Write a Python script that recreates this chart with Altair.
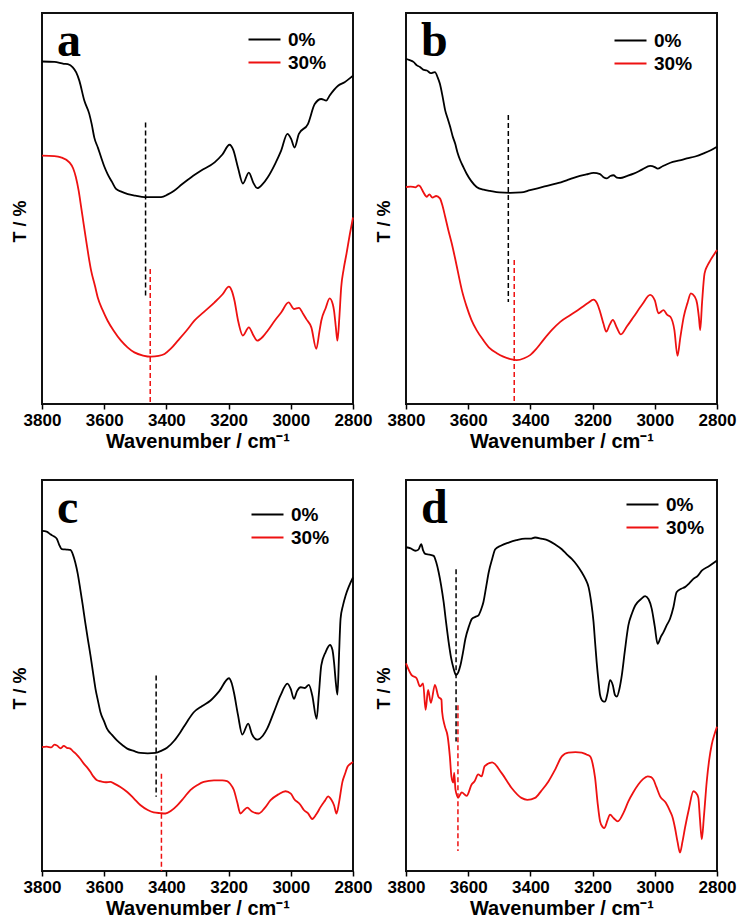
import altair as alt
import pandas as pd

panel_labels = ["a", "b", "c", "d"]
series_names = ["0%", "30%"]
series_colors = ["#000000", "#ee1111"]
x_tick_values = [3800, 3700, 3600, 3500, 3400, 3300, 3200, 3100, 3000, 2900, 2800]

# ---------- panel a ----------
a0_wn = [3800, 3760, 3730, 3717, 3701, 3690, 3680, 3664, 3648, 3640, 3632, 3620, 3610, 3600, 3589, 3575,
         3562, 3545, 3524, 3500, 3470, 3440, 3417, 3395, 3374, 3350, 3320, 3288, 3245, 3220, 3197, 3185,
         3170, 3154, 3135, 3120, 3108, 3090, 3074, 3050, 3031, 3011, 2999, 2988, 2974, 2945, 2923, 2902,
         2886, 2875, 2848, 2827, 2800]
a0_t = [87.6, 87.5, 87.0, 86.9, 86.1, 84.8, 82.7, 77.6, 74.2, 71.5, 68.2, 65.5, 63.1, 60.8, 58.8, 56.8,
        55.0, 54.3, 53.7, 53.3, 52.9, 52.9, 52.9, 53.6, 54.6, 56.2, 58.0, 59.7, 61.8, 63.8, 66.3, 65.0,
        60.5, 56.4, 59.2, 56.5, 55.2, 56.3, 58.0, 61.5, 64.8, 69.1, 67.8, 65.6, 69.1, 71.6, 76.7, 78.0,
        77.6, 78.9, 81.4, 82.3, 84.0]
a30_wn = [3800, 3760, 3739, 3712, 3700, 3691, 3682, 3674, 3666, 3658, 3650, 3642, 3630, 3621, 3605, 3589,
          3570, 3546, 3525, 3503, 3475, 3449, 3425, 3406, 3385, 3363, 3335, 3310, 3280, 3245, 3220, 3199,
          3190, 3181, 3170, 3154, 3135, 3120, 3108, 3090, 3074, 3050, 3031, 3007, 2990, 2974, 2960, 2950,
          2934, 2918, 2908, 2902, 2888, 2875, 2865, 2861, 2855, 2850, 2844, 2838, 2830, 2821, 2810, 2800]
a30_t = [63.5, 63.4, 63.1, 61.8, 60.3, 58.0, 54.5, 50.3, 46.0, 41.8, 37.7, 34.1, 30.3, 27.3, 24.0, 21.3,
         18.8, 16.2, 14.5, 13.2, 12.4, 12.1, 12.3, 12.8, 14.2, 16.2, 18.8, 21.3, 23.5, 26.0, 28.0, 30.0,
         29.0, 26.4, 21.5, 17.5, 19.6, 17.5, 16.2, 17.2, 18.8, 21.5, 23.4, 26.0, 24.3, 24.6, 23.0, 21.7,
         19.6, 14.1, 18.5, 21.3, 24.5, 27.0, 25.5, 23.9, 19.5, 16.2, 22.0, 29.8, 34.5, 38.4, 43.5, 47.7]

# ---------- panel b ----------
b0_wn = [3800, 3790, 3776, 3765, 3755, 3745, 3733, 3720, 3707, 3698, 3691, 3682, 3674, 3666, 3658, 3650,
         3642, 3634, 3626, 3615, 3605, 3590, 3573, 3550, 3530, 3500, 3465, 3430, 3401, 3360, 3315, 3280,
         3251, 3220, 3197, 3176, 3165, 3154, 3143, 3133, 3122, 3111, 3090, 3068, 3040, 3015, 3000, 2991,
         2975, 2950, 2920, 2897, 2870, 2843, 2820, 2800]
b0_t = [88.3, 88.0, 87.5, 86.6, 86.2, 85.5, 85.3, 84.6, 84.9, 83.5, 81.9, 78.5, 75.1, 73.0, 70.9, 68.5,
        66.6, 64.2, 62.4, 60.5, 58.9, 57.0, 55.5, 54.8, 54.5, 54.1, 54.0, 54.1, 54.7, 55.5, 56.4, 57.3,
        58.1, 58.7, 59.1, 58.8, 58.0, 57.7, 58.3, 58.5, 57.9, 57.8, 58.3, 58.9, 60.0, 60.9, 60.6, 60.2,
        60.8, 61.7, 62.3, 62.8, 63.3, 64.1, 64.9, 65.8]
b30_wn = [3800, 3785, 3770, 3760, 3755, 3745, 3733, 3725, 3715, 3703, 3691, 3682, 3674, 3664, 3653, 3642,
          3632, 3620, 3605, 3590, 3573, 3552, 3530, 3508, 3487, 3465, 3444, 3420, 3401, 3380, 3358, 3330,
          3304, 3270, 3240, 3215, 3197, 3186, 3176, 3165, 3156, 3145, 3135, 3122, 3109, 3090, 3068, 3040,
          3015, 3000, 2988, 2972, 2960, 2950, 2937, 2927, 2918, 2907, 2895, 2884, 2872, 2864, 2858, 2854,
          2848, 2840, 2830, 2821, 2810, 2800]
b30_t = [55.5, 55.6, 55.4, 55.9, 55.7, 54.3, 53.0, 53.6, 52.8, 53.2, 52.6, 50.5, 47.9, 44.5, 41.1, 37.2,
         33.4, 29.0, 24.9, 21.6, 18.9, 16.4, 14.2, 13.0, 12.1, 11.5, 11.2, 11.7, 12.5, 14.2, 16.4, 19.0,
         21.0, 22.8, 24.4, 25.8, 26.7, 25.8, 23.6, 20.5, 18.5, 20.3, 21.5, 19.5, 17.8, 19.8, 22.3, 25.5,
         27.9, 26.5, 23.2, 24.0, 22.8, 22.3, 18.9, 12.3, 17.0, 22.3, 25.8, 28.3, 27.5, 25.7, 22.0, 18.9,
         26.0, 33.4, 35.5, 36.8, 38.2, 39.4]

# ---------- panel c ----------
c0_wn = [3800, 3785, 3773, 3762, 3752, 3745, 3736, 3720, 3709, 3700, 3693, 3685, 3677, 3669, 3661, 3652,
         3644, 3636, 3628, 3620, 3612, 3600, 3591, 3575, 3559, 3540, 3526, 3505, 3483, 3460, 3435, 3415,
         3398, 3375, 3355, 3335, 3312, 3285, 3258, 3230, 3199, 3190, 3183, 3170, 3156, 3137, 3125, 3108,
         3090, 3076, 3055, 3033, 3011, 3000, 2990, 2980, 2968, 2955, 2942, 2931, 2917, 2910, 2902, 2888,
         2874, 2866, 2861, 2855, 2850, 2845, 2840, 2832, 2824, 2812, 2800]
c0_t = [87.0, 86.8, 86.1, 85.6, 84.9, 83.5, 82.3, 82.2, 82.1, 80.8, 78.9, 76.0, 72.1, 68.0, 63.6, 59.0,
        55.1, 50.8, 46.6, 43.5, 40.6, 38.2, 36.4, 34.8, 33.4, 32.1, 31.3, 30.7, 30.2, 30.1, 30.2, 30.8,
        31.5, 33.3, 35.5, 38.0, 40.6, 42.2, 43.6, 46.0, 49.3, 48.0, 45.7, 40.0, 34.9, 37.7, 35.0, 33.6,
        34.6, 36.4, 40.5, 44.9, 47.9, 46.5, 44.0, 46.0, 47.0, 46.8, 47.6, 44.9, 38.9, 45.0, 52.6, 56.0,
        57.8, 56.5, 53.4, 48.0, 45.1, 55.0, 64.5, 68.0, 70.4, 73.0, 75.1]
c30_wn = [3800, 3785, 3770, 3760, 3752, 3740, 3730, 3720, 3709, 3700, 3690, 3677, 3665, 3655, 3644, 3635,
          3623, 3610, 3595, 3580, 3569, 3548, 3526, 3505, 3483, 3460, 3441, 3420, 3403, 3385, 3365, 3345,
          3323, 3300, 3280, 3247, 3220, 3205, 3195, 3183, 3172, 3162, 3150, 3140, 3125, 3103, 3085, 3065,
          3040, 3017, 3000, 2990, 2970, 2958, 2945, 2931, 2918, 2904, 2890, 2880, 2870, 2861, 2853, 2845,
          2834, 2825, 2818, 2810, 2800]
c30_t = [31.7, 31.8, 31.6, 32.3, 32.1, 31.4, 32.0, 31.5, 31.3, 30.6, 29.9, 28.7, 27.4, 26.5, 25.3, 24.2,
         23.2, 22.9, 22.7, 22.8, 22.4, 21.5, 20.2, 18.6, 16.8, 15.6, 15.0, 14.8, 14.7, 15.4, 16.8, 18.6,
         20.7, 22.0, 22.8, 23.2, 23.2, 23.0, 22.3, 20.7, 17.5, 14.7, 15.6, 16.2, 15.2, 14.7, 16.0, 18.1,
         19.6, 20.4, 19.8, 18.5, 17.0, 15.6, 14.8, 13.3, 14.5, 16.4, 18.0, 19.1, 18.3, 16.8, 14.7, 17.5,
         22.8, 25.0, 26.6, 27.3, 27.9]

# ---------- panel d ----------
d0_wn = [3800, 3785, 3770, 3760, 3751, 3745, 3738, 3725, 3711, 3703, 3695, 3687, 3679, 3671, 3663, 3655,
         3647, 3639, 3632, 3625, 3617, 3609, 3598, 3588, 3577, 3567, 3558, 3551, 3542, 3534, 3523, 3513,
         3495, 3470, 3445, 3417, 3400, 3385, 3365, 3342, 3320, 3299, 3283, 3267, 3250, 3235, 3222, 3213,
         3205, 3197, 3192, 3187, 3181, 3176, 3168, 3160, 3152, 3144, 3135, 3128, 3122, 3114, 3106, 3096,
         3085, 3073, 3063, 3045, 3031, 3020, 3010, 3000, 2991, 2980, 2972, 2962, 2951, 2940, 2930, 2915,
         2903, 2890, 2876, 2862, 2849, 2825, 2800]
d0_t = [82.8, 82.5, 81.9, 82.2, 83.6, 82.0, 81.1, 80.9, 80.6, 79.0, 76.4, 73.0, 68.8, 63.5, 58.6, 54.5,
        51.8, 50.1, 50.8, 52.6, 55.8, 59.4, 62.5, 64.5, 65.0, 65.4, 67.0, 68.8, 72.8, 76.4, 79.8, 82.3,
        83.2, 84.0, 84.6, 85.0, 85.0, 85.3, 85.0, 84.5, 83.5, 82.3, 81.0, 79.8, 78.2, 76.4, 74.5, 72.6,
        69.0, 63.7, 58.5, 53.5, 48.5, 45.0, 43.5, 43.3, 45.5, 48.8, 47.5, 45.0, 44.6, 46.5, 50.1, 56.5,
        62.8, 66.0, 67.9, 69.5, 70.3, 69.5, 67.1, 62.5, 58.1, 60.0, 61.1, 62.8, 64.5, 67.5, 71.3, 72.2,
        72.6, 73.5, 74.7, 75.5, 76.8, 78.0, 79.4]
d30_wn = [3800, 3782, 3766, 3755, 3745, 3737, 3729, 3720, 3707, 3696, 3686, 3684, 3675, 3666, 3659, 3654,
          3648, 3645, 3641, 3632, 3621, 3605, 3589, 3579, 3568, 3557, 3547, 3523, 3493, 3461, 3429, 3410,
          3385, 3365, 3342, 3320, 3299, 3278, 3255, 3235, 3220, 3208, 3200, 3192, 3184, 3176, 3168, 3162,
          3152, 3144, 3132, 3119, 3100, 3085, 3070, 3053, 3038, 3023, 3012, 3004, 2995, 2983, 2965, 2951,
          2942, 2935, 2927, 2919, 2911, 2903, 2890, 2876, 2868, 2860, 2855, 2849, 2842, 2833, 2825, 2817,
          2808, 2800]
d30_t = [53.1, 50.1, 49.3, 47.2, 48.0, 41.2, 46.3, 43.0, 47.6, 44.6, 43.8, 40.8, 37.0, 34.4, 29.3, 24.2,
         22.6, 25.1, 20.9, 18.8, 20.1, 19.2, 22.1, 23.0, 24.7, 24.2, 26.8, 27.8, 25.1, 21.3, 18.7, 18.2,
         18.7, 20.5, 22.9, 26.0, 29.3, 30.3, 30.4, 30.3, 29.8, 29.3, 27.5, 23.8, 17.5, 12.7, 11.3, 11.0,
         13.0, 14.4, 13.5, 12.7, 15.0, 17.8, 20.0, 22.1, 23.5, 24.2, 24.0, 23.3, 21.5, 19.1, 17.5, 15.3,
         13.5, 11.0, 7.5, 4.7, 7.5, 11.0, 16.0, 20.4, 20.0, 18.7, 13.5, 8.1, 14.0, 22.9, 28.5, 32.3,
         35.0, 36.9]

# dashed marker lines: position (cm-1), top, bottom  for 0% and 30%
dash_a = [(3467, 72.0, 27.7), (3452, 34.5, 0.0)]
dash_b = [(3471, 73.9, 26.1), (3452, 36.8, 0.0)]
dash_c = [(3433, 50.0, 19.0), (3416, 24.9, 0.0)]
dash_d = [(3639, 77.2, 33.1), (3633, 42.4, 5.1)]

legend_pos = [(213, 17), (215, 18), (216, 25), (227, 15)]

FONT = "Liberation Sans"


def panel(idx, curves, dashes):
    rows = []
    for name, (wn, t) in zip(series_names, curves):
        rows += [{"wn": w, "t": v, "series": name} for w, v in zip(wn, t)]
    df = pd.DataFrame(rows)

    x_axis = alt.Axis(
        values=x_tick_values, format="d",
        labelExpr="datum.value % 200 === 0 ? datum.label : ''",
        tickSize={"condition": {"test": "datum.value % 200 === 0", "value": 5}, "value": 3},
        tickColor="black", tickWidth=1.5, domain=False, grid=False,
        labelFont=FONT, labelFontWeight="bold", labelFontSize=17, labelColor="black",
        labelPadding=3, labelOverlap=False, labelFlush=False,
        title="Wavenumber / cm⁻¹", titleFont=FONT, titleFontWeight="bold", titleFontSize=20,
        titleColor="black", titlePadding=3,
    )
    y_axis = alt.Axis(
        labels=False, ticks=False, domain=False, grid=False,
        title="T / %", titleFont=FONT, titleFontWeight="bold", titleFontSize=18,
        titleColor="black", titlePadding=13, titleY=208,
    )
    x = alt.X("wn:Q", scale=alt.Scale(domain=[2800, 3800], reverse=True, nice=False, zero=False), axis=x_axis)
    y = alt.Y("t:Q", scale=alt.Scale(domain=[0, 100], nice=False, zero=False), axis=y_axis)

    lx, ly = legend_pos[idx]
    lines = alt.Chart(df).mark_line(strokeWidth=1.8, interpolate="monotone").encode(
        x=x, y=y,
        color=alt.Color(
            "series:N",
            scale=alt.Scale(domain=series_names, range=series_colors),
            legend=alt.Legend(
                title=None, orient="none", legendX=lx, legendY=ly, direction="vertical",
                symbolType="M-2,0L2,0", symbolSize=256, symbolStrokeWidth=2,
                labelFont=FONT, labelFontSize=19, labelFontWeight="bold", labelColor="black",
                labelOffset=14, rowPadding=3, padding=0,
            ),
        ),
    )

    ddf = pd.DataFrame([
        {"wn": d[0], "top": d[1], "bottom": d[2], "col": c}
        for d, c in zip(dashes, series_colors)
    ])
    rules = alt.Chart(ddf).mark_rule(strokeDash=[5, 3], strokeWidth=1.5).encode(
        x="wn:Q", y="top:Q", y2="bottom:Q", stroke=alt.Stroke("col:N", scale=None)
    )

    letter = alt.Chart(pd.DataFrame({"label": [panel_labels[idx]]})).mark_text(
        font="Liberation Serif", fontWeight="bold", fontSize=48, align="left",
        baseline="alphabetic", color="black"
    ).encode(x=alt.value(15), y=alt.value(43), text="label:N")

    return alt.layer(lines, rules, letter).properties(width=311, height=391)


pa = panel(0, [(a0_wn, a0_t), (a30_wn, a30_t)], dash_a)
pb = panel(1, [(b0_wn, b0_t), (b30_wn, b30_t)], dash_b)
pc = panel(2, [(c0_wn, c0_t), (c30_wn, c30_t)], dash_c)
pd_ = panel(3, [(d0_wn, d0_t), (d30_wn, d30_t)], dash_d)

chart = alt.concat(
    pa, pb, pc, pd_, columns=2, spacing={"row": 76, "column": 53}, bounds="flush"
).resolve_scale(
    color="independent", x="independent", y="independent"
).resolve_legend(color="independent").properties(
    padding={"left": 10, "top": 12, "right": 0, "bottom": 0}, background="white"
).configure_view(stroke="#111111", strokeWidth=2)

chart.save("out.html", embed_options={"renderer": "svg", "actions": False})
